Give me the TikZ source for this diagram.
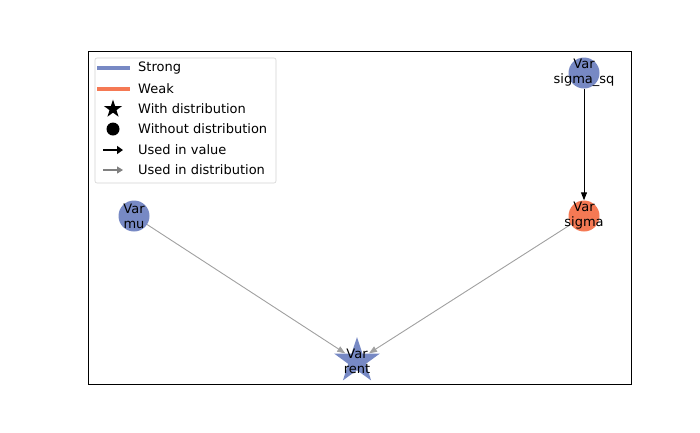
\documentclass[tikz,border=0pt]{standalone}
\usepackage{fontspec}
\setmainfont{DejaVu Sans}
\usetikzlibrary{shapes,arrows.meta}
\definecolor{strong}{RGB}{119,137,196}
\definecolor{weak}{RGB}{245,121,84}
\definecolor{edgegray}{RGB}{160,160,160}
\tikzset{
  varnode/.style={circle,inner sep=0pt,minimum size=31pt},
  starnode/.style={star,star points=5,star point ratio=2.6,inner sep=0pt,minimum size=48pt},
  varlabel/.style={align=center,font=\fontsize{13}{15}\selectfont,inner sep=0pt},
  legtext/.style={anchor=west,font=\fontsize{13}{15}\selectfont,inner sep=0pt},
  valedge/.style={-{Triangle[length=8pt,width=6pt]},line width=0.9pt,black},
  distedge/.style={-{Triangle[length=8pt,width=6pt]},line width=0.9pt,edgegray}
}

\begin{document}
\begin{tikzpicture}[x=1pt,y=-1pt]
\useasboundingbox (0,0) rectangle (700,432);
\draw[line width=0.8pt] (88,51) rectangle (631,384);

% variables
\node[varnode,fill=strong] (sigsq) at (584,73) {};
\node[varnode,fill=weak] (sigma) at (584,216) {};
\node[varnode,fill=strong] (mu) at (134,216) {};
\node[starnode,fill=strong] (rent) at (357,361) {};

% edges
\draw[valedge] (sigsq) -- (sigma);
\draw[distedge] (mu) -- (rent);
\draw[distedge] (sigma) -- (rent);

% labels
\node[varlabel] at (sigsq) {Var\\sigma\_sq};
\node[varlabel] at (sigma) {Var\\sigma};
\node[varlabel] at (mu) {Var\\mu};
\node[varlabel] at (rent) {Var\\rent};

% legend
\draw[gray!35,fill=white,rounded corners=2pt,line width=0.6pt] (95,58) rectangle (276,183);
\draw[strong,line width=4pt] (97,68) -- (130,68);
\node[legtext] (lstrong) at (138,68) {Strong};
\draw[weak,line width=4pt] (97,89) -- (130,89);
\node[legtext] (lweak) at (138,89) {Weak};
\node[starnode,fill=black,minimum size=19pt] (lstar) at (113,109) {};
\node[legtext] (lwith) at (138,109) {With distribution};
\node[varnode,fill=black,minimum size=13pt] (ldot) at (113,129) {};
\node[legtext] (lwithout) at (138,129) {Without distribution};
\coordinate (lv1) at (103,150);
\coordinate (lv2) at (123,150);
\draw[-{Triangle[length=6pt,width=8pt]},line width=2pt] (lv1) -- (lv2);
\node[legtext] (lval) at (138,150) {Used in value};
\coordinate (ld1) at (103,170);
\coordinate (ld2) at (123,170);
\draw[-{Triangle[length=6pt,width=7pt]},line width=1.2pt,gray] (ld1) -- (ld2);
\node[legtext] (ldist) at (138,170) {Used in distribution};
\end{tikzpicture}
\end{document}
